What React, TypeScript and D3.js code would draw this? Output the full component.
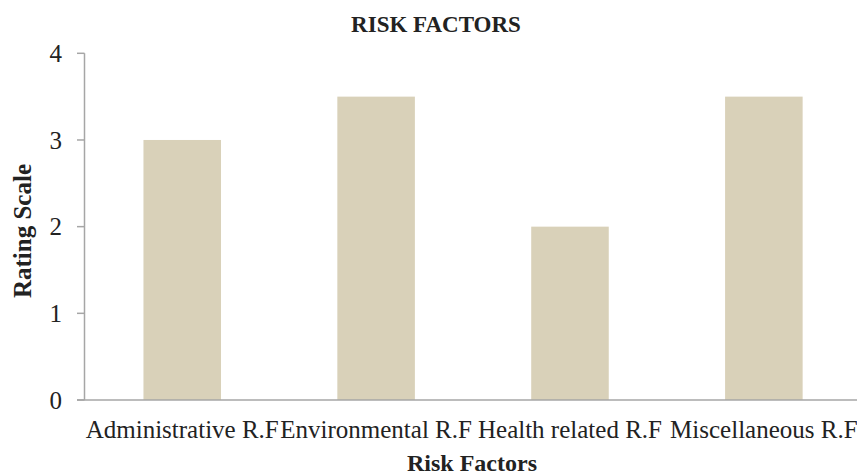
import React from "react";
import * as d3 from "d3";

const categories = ["Administrative R.F", "Environmental R.F", "Health related R.F", "Miscellaneous R.F"];
const values = [3, 3.5, 2, 3.5];
const yTicks = [0, 1, 2, 3, 4];
const title = "RISK FACTORS";
const xTitle = "Risk Factors";
const yTitle = "Rating Scale";

export default function App() {
  const W = 857, H = 475;
  const x = d3.scaleBand<string>().domain(categories).range([85.3, 860.8]).paddingInner(0.6).paddingOuter(0.3);
  const y = d3.scaleLinear().domain([0, 4]).range([400, 53.3]);
  const font = "'Liberation Serif', 'Times New Roman', serif";
  return (
    <svg width={W} height={H} style={{ position: "absolute", left: 0, top: 0 }} fontFamily={font}>
      <rect width={W} height={H} fill="#fff" />
      <text x={436} y={32} textAnchor="middle" fontWeight="bold" fontSize={23} fill="#222">{title}</text>
      {categories.map((c, i) => (
        <rect key={c} x={x(c)} y={y(values[i])} width={x.bandwidth()} height={y(0) - y(values[i])} fill="#d9d1b9" />
      ))}
      <line x1={84.5} x2={84.5} y1={y(4)} y2={y(0)} stroke="#a6a6a6" strokeWidth={1.5} />
      <line x1={77} x2={W} y1={y(0)} y2={y(0)} stroke="#a6a6a6" strokeWidth={1.5} />
      {yTicks.map(t => (
        <g key={t}>
          <line x1={77} x2={84.5} y1={y(t)} y2={y(t)} stroke="#a6a6a6" strokeWidth={1.5} />
          <text x={62} y={y(t)} dy="0.35em" textAnchor="end" fontSize={25} fill="#222">{t}</text>
        </g>
      ))}
      {categories.map(c => (
        <text key={c} x={(x(c) as number) + x.bandwidth() / 2} y={438} textAnchor="middle" fontSize={25} fill="#222">{c}</text>
      ))}
      <text x={472} y={471} textAnchor="middle" fontWeight="bold" fontSize={24} fill="#222">{xTitle}</text>
      <text transform={`translate(31,231) rotate(-90)`} textAnchor="middle" fontWeight="bold" fontSize={25} fill="#222">{yTitle}</text>
    </svg>
  );
}
